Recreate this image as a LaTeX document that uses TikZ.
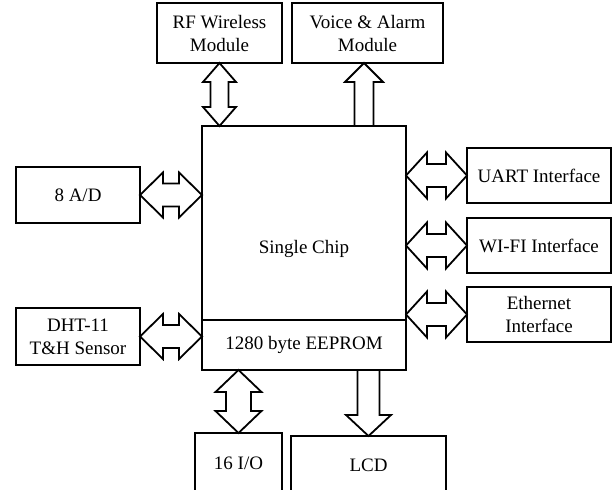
\documentclass[tikz,border=0pt]{standalone}
\usepackage{fontspec}
\setmainfont{Liberation Serif}
\usetikzlibrary{calc}

% double-headed block arrow, horizontal: #1 left tip, #2 right tip,
% #3 head half-width, #4 shaft half-width, #5 head length
\newcommand{\blkDblH}[5]{%
  \draw[blockarrow] (#1) -- ++(#5,-#3) -- ++(0,#3-#4)
    -- ($(#2)+(-#5,-#4)$) -- ++(0,#4-#3) -- (#2) -- ++(-#5,#3)
    -- ++(0,#4-#3) -- ($(#1)+(#5,#4)$) -- ++(0,#3-#4) -- cycle;}
% double-headed block arrow, vertical: #1 upper tip, #2 lower tip
\newcommand{\blkDblV}[5]{%
  \draw[blockarrow] (#1) -- ++(#3,#5) -- ++(#4-#3,0)
    -- ($(#2)+(#4,-#5)$) -- ++(#3-#4,0) -- (#2) -- ++(-#3,-#5)
    -- ++(#3-#4,0) -- ($(#1)+(-#4,#5)$) -- ++(#4-#3,0) -- cycle;}
% single block arrow pointing down: #1 tail (top), #2 tip (bottom)
\newcommand{\blkDown}[5]{%
  \draw[blockarrow] ($(#1)+(-#4,0)$) -- ($(#2)+(-#4,-#5)$) -- ++(#4-#3,0)
    -- (#2) -- ++(#3,-#5) -- ++(#4-#3,0) -- ($(#1)+(#4,0)$) -- cycle;}
% single block arrow pointing up: #1 tail (bottom), #2 tip (top)
\newcommand{\blkUp}[5]{%
  \draw[blockarrow] ($(#1)+(-#4,0)$) -- ($(#2)+(-#4,#5)$) -- ++(#4-#3,0)
    -- (#2) -- ++(#3,#5) -- ++(#4-#3,0) -- ($(#1)+(#4,0)$) -- cycle;}

\begin{document}
\begin{tikzpicture}[x=1pt,y=-1pt,
  every node/.style={font=\fontsize{19}{23}\selectfont},
  box/.style={draw,line width=1.8pt,inner sep=0pt,outer sep=0pt,
    align=center,rectangle},
  blockarrow/.style={draw,fill=white,line width=1.8pt,line join=miter}]
\useasboundingbox (0,0) rectangle (614,490);
\clip (0,0) rectangle (614,490);

% peripheral modules
\node[box,minimum width=125pt,minimum height=60pt] (rf) at (219.5,33) {RF Wireless\\Module};
\node[box,minimum width=151pt,minimum height=60pt] (voice) at (367.5,33) {Voice \& Alarm\\Module};
\node[box,minimum width=124pt,minimum height=56pt] (ad) at (78,195) {8 A/D};
\node[box,minimum width=124pt,minimum height=57pt] (dht) at (78,336.5) {DHT-11\\T\&H Sensor};
\node[box,minimum width=144pt,minimum height=55pt] (uart) at (539,175.5) {UART Interface};
\node[box,minimum width=144pt,minimum height=55pt] (wifi) at (539,245.5) {WI-FI Interface};
\node[box,minimum width=144pt,minimum height=55pt] (eth) at (539,314.5) {Ethernet\\Interface};
\node[box,minimum width=87pt,minimum height=60pt] (io) at (238.5,463) {16 I/O};
\node[box,minimum width=155pt,minimum height=58pt] (lcd) at (368.5,465) {LCD};

% microcontroller with its EEPROM
\node[box,minimum width=204pt,minimum height=194pt] (chip) at (304,223) {};
\node (chiptext) at (304,249) {Single Chip};
\node[box,minimum width=204pt,minimum height=50pt] (eeprom) at (304,345) {1280 byte EEPROM};

% buses
\blkDblV{rf.south}{rf.south |- chip.north}{16.5}{9}{19}
\coordinate (vtip) at ($(voice.south)+(-3.5,0)$);
\blkUp{vtip |- chip.north}{vtip}{19}{9.5}{19}
\blkDblH{ad.east}{ad.east -| chip.west}{22.5}{11.5}{23}
\blkDblH{dht.east}{dht.east -| eeprom.west}{22.5}{11.5}{23}
\blkDblH{uart.west -| chip.east}{uart.west}{23}{11.5}{21}
\blkDblH{wifi.west -| chip.east}{wifi.west}{23}{11.5}{21}
\blkDblH{eth.west -| chip.east}{eth.west}{23}{11.5}{21}
\blkDblV{io.north |- eeprom.south}{io.north}{23}{12.5}{22}
\blkDown{lcd.north |- eeprom.south}{lcd.north}{22.5}{11}{21}
\end{tikzpicture}
\end{document}
